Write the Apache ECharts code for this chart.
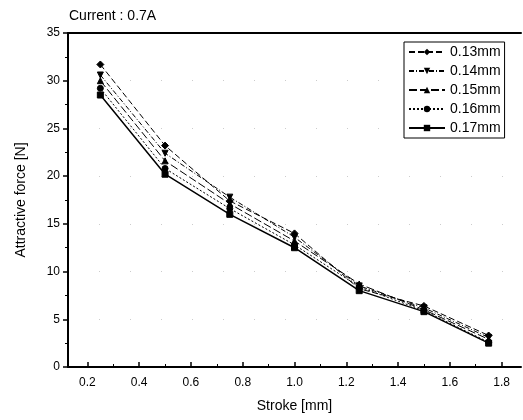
<!DOCTYPE html>
<html><head><meta charset="utf-8">
<script src="https://cdn.jsdelivr.net/npm/echarts@6/dist/echarts.min.js"></script>
<style>html,body{margin:0;padding:0;background:#fff}#c{width:523px;height:420px}</style>
</head><body><div id="c"></div>
<script>
const strokes = [0.25, 0.5, 0.75, 1.0, 1.25, 1.5, 1.75];
const seriesNames = ['0.13mm', '0.14mm', '0.15mm', '0.16mm', '0.17mm'];
const s013 = [31.7, 23.2, 17.4, 14.0, 8.2, 6.4, 3.3];
const s014 = [30.6, 22.4, 17.8, 13.6, 8.5, 6.2, 3.1];
const s015 = [30.0, 21.6, 17.1, 13.2, 8.7, 6.0, 2.9];
const s016 = [29.2, 20.8, 16.6, 12.8, 8.4, 5.9, 2.6];
const s017 = [28.5, 20.2, 16.0, 12.5, 8.0, 5.8, 2.5];
const xTicks = [0.2, 0.4, 0.6, 0.8, 1.0, 1.2, 1.4, 1.6, 1.8];
const xMinorTicks = [0.3, 0.5, 0.7, 0.9, 1.1, 1.3, 1.5, 1.7];

const values = [s013, s014, s015, s016, s017];
const symbols = ['diamond', 'triangle', 'triangle', 'circle', 'rect'];
const rotations = [0, 180, 0, 0, 0];
const dashes = [[6, 3], [5, 2, 1, 2], [8, 3], [2, 2], 'solid'];
const font = 'Liberation Sans, Arial, sans-serif';

const chart = echarts.init(document.getElementById('c'));
chart.setOption({
  animation: false,
  backgroundColor: '#fff',
  title: {text: 'Current : 0.7A', left: 64, top: 4,
    textStyle: {fontFamily: font, fontSize: 14, fontWeight: 'normal', color: '#000'}},
  legend: {
    orient: 'vertical', left: 404, top: 42, itemWidth: 36, itemHeight: 8, itemGap: 5,
    borderColor: '#000', borderWidth: 1, padding: [3, 4, 3, 4], backgroundColor: '#fff',
    textStyle: {fontFamily: font, fontSize: 14, color: '#000'},
    data: seriesNames
  },
  grid: {left: 68, right: 2, top: 33, bottom: 53},
  xAxis: [{
    type: 'value', min: 0.125, max: 1.875,
    name: 'Stroke [mm]', nameLocation: 'middle', nameGap: 32,
    nameTextStyle: {fontFamily: font, fontSize: 14, color: '#000'},
    axisLine: {lineStyle: {color: '#000', width: 2}},
    axisTick: {inside: true, length: 5, customValues: xTicks, lineStyle: {color: '#000', width: 1.5}},
    axisLabel: {customValues: xTicks, fontFamily: font, fontSize: 12, color: '#000', margin: 10,
      formatter: v => v.toFixed(1)},
    splitLine: {show: false}
  }, {
    type: 'value', min: 0.125, max: 1.875, position: 'bottom',
    axisLine: {show: false},
    axisTick: {inside: true, length: 3, customValues: xMinorTicks, lineStyle: {color: '#000', width: 1}},
    axisLabel: {show: false},
    splitLine: {show: false}
  }, {
    type: 'value', min: 0.125, max: 1.875, position: 'top',
    axisLine: {show: true, lineStyle: {color: '#000', width: 2}},
    axisTick: {show: false}, axisLabel: {show: false}, splitLine: {show: false}
  }],
  yAxis: {
    type: 'value', min: 0, max: 35, interval: 5,
    name: 'Attractive force [N]', nameLocation: 'middle', nameGap: 40,
    nameTextStyle: {fontFamily: font, fontSize: 14, color: '#000'},
    axisLine: {show: true, lineStyle: {color: '#000', width: 2}},
    axisTick: {show: true, length: 5, lineStyle: {color: '#000', width: 1.5}},
    minorTick: {show: true, splitNumber: 2, length: 3, lineStyle: {color: '#000'}},
    axisLabel: {fontFamily: font, fontSize: 12, color: '#000', margin: 8},
    splitLine: {show: true, lineStyle: {color: '#ccc', type: [1, 30], width: 1}}
  },
  series: seriesNames.map((n, i) => ({
    name: n, type: 'line', xAxisIndex: 0,
    data: strokes.map((x, j) => [x, values[i][j]]),
    symbol: symbols[i], symbolRotate: rotations[i], symbolSize: i === 0 ? 7 : 6,
    lineStyle: {color: '#000', width: i === 4 ? 1.5 : 1, type: dashes[i]},
    itemStyle: {color: '#000', borderColor: '#000'},
    emphasis: {disabled: true}
  }))
});
</script></body></html>
